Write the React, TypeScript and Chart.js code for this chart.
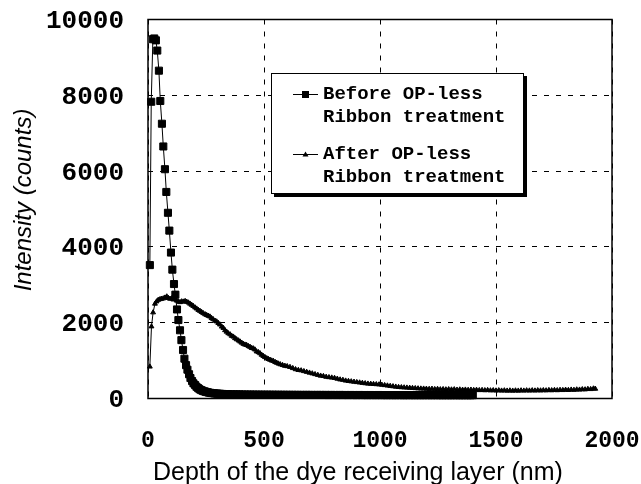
import { useEffect, useRef } from "react";
import { Chart, registerables } from "chart.js";

Chart.register(...registerables);

const W = 641;
const H = 484;

// ---- data ----
const beforeDepth = [
  8, 14, 21, 27, 34, 40, 47, 53, 60, 66, 73, 79, 86, 92, 99, 105, 112, 118, 125, 131,
  138, 144, 151, 157, 164, 170, 177, 183, 190, 196, 203, 209, 216, 222, 229, 235, 242, 248, 255, 261,
  268, 274, 281, 287, 294, 300, 307, 313, 320, 326, 333, 339,
  346, 358, 370, 382, 394, 406, 418, 430, 442, 454, 466, 478, 490, 502, 514, 526, 538, 550, 562, 574,
  586, 598, 610, 622, 634, 646, 658, 670, 682, 694, 706, 718, 730, 742, 754, 766, 778, 790, 802, 814,
  826, 838, 850, 862, 874, 886, 898, 910, 922, 934, 946, 958, 970, 982, 994, 1006, 1018, 1030, 1042, 1054,
  1066, 1078, 1090, 1102, 1114, 1126, 1138, 1150, 1162, 1174, 1186, 1198, 1210, 1222, 1234, 1246, 1258, 1270, 1282, 1294,
  1306, 1318, 1330, 1342, 1354, 1366, 1378, 1390, 1400,
];
const beforeIntensity = [
  3520, 7830, 9480, 9500, 9450, 9180, 8650, 7850, 7250, 6650, 6050, 5450, 4900, 4430, 3850, 3400, 3020, 2740, 2350, 2070,
  1800, 1540, 1280, 1050, 880, 760, 640, 540, 460, 400, 355, 310, 275, 245, 222, 205, 190, 178, 168, 158,
  150, 144, 139, 134, 130, 127, 124, 122, 120, 118, 116, 114,
  113, 112, 110, 109, 108, 106, 106, 104, 104, 103, 102, 102, 101, 100, 101, 99, 100, 98, 99, 97,
  98, 97, 96, 97, 95, 96, 95, 94, 96, 94, 95, 93, 95, 94, 93, 95, 92, 94, 93, 92,
  94, 92, 93, 91, 93, 92, 90, 93, 91, 92, 90, 92, 91, 90, 92, 90, 91, 89, 91, 90,
  89, 91, 90, 88, 90, 89, 90, 88, 90, 89, 88, 90, 89, 88, 90, 88, 89, 87, 89, 88,
  87, 89, 88, 87, 88, 87, 88, 87, 88,
];

const afterDepth = [
  8, 15, 22, 30, 37, 44, 52, 59, 66, 73, 81, 88, 95, 102, 109, 116, 124, 131, 138, 145,
  152, 160, 167, 174, 181, 188, 195, 203, 210, 217, 224, 231, 238, 246, 253, 260, 267, 274, 281, 289,
  296, 303, 310, 318, 325, 332, 339, 346, 354, 361, 368, 375, 382, 390, 397, 404, 411, 418, 425, 433,
  440, 447, 454, 461, 468, 476, 483, 490, 497, 504, 512, 519, 526, 533, 540, 548, 555, 562, 570, 580,
  590, 600, 612, 624, 636, 648, 660, 672, 684, 696, 708, 720, 732, 744, 756, 768, 780, 792, 804, 816,
  828, 840, 852, 864, 876, 888, 900, 912, 924, 936, 948, 960, 972, 984, 996, 1008, 1020, 1032, 1044, 1056,
  1068, 1080, 1092, 1104, 1116, 1128, 1140, 1152, 1164, 1176, 1188, 1200, 1212, 1224, 1236, 1248, 1260, 1272, 1284, 1296,
  1308, 1320, 1332, 1344, 1356, 1368, 1380, 1392, 1404, 1416, 1428, 1440, 1452, 1464, 1476, 1488, 1500, 1512, 1524, 1536,
  1548, 1560, 1572, 1584, 1596, 1608, 1620, 1632, 1644, 1656, 1668, 1680, 1692, 1704, 1716, 1728, 1740, 1752, 1764, 1776,
  1788, 1800, 1812, 1824, 1836, 1848, 1860, 1872, 1884, 1896, 1908, 1920, 1928,
];
const afterIntensity = [
  840, 1900, 2270, 2500, 2560, 2600, 2620, 2630, 2640, 2660, 2690, 2650, 2630, 2640, 2610, 2620, 2580, 2555, 2540, 2560,
  2555, 2570, 2550, 2530, 2500, 2470, 2440, 2400, 2370, 2335, 2310, 2280, 2250, 2220, 2200, 2180, 2160, 2120, 2090, 2050,
  2030, 1990, 1950, 1895, 1860, 1800, 1760, 1720, 1690, 1650, 1630, 1590, 1560, 1530, 1500, 1470, 1440, 1420, 1410, 1380,
  1360, 1330, 1320, 1290, 1240, 1220, 1190, 1150, 1120, 1090, 1060, 1040, 1020, 1000, 990, 960, 940, 920, 900, 880,
  860, 850, 830, 800, 770, 750, 740, 720, 700, 680, 660, 640, 620, 600, 590, 570, 560, 550, 540, 520,
  500, 490, 470, 460, 450, 440, 430, 420, 410, 400, 390, 385, 380, 375, 370, 360, 350, 340, 330, 320,
  310, 300, 295, 290, 285, 280, 275, 270, 265, 260, 258, 255, 250, 255, 245, 250, 240, 245, 238, 242,
  235, 240, 230, 236, 228, 232, 225, 230, 222, 226, 218, 222, 215, 220, 212, 216, 208, 214, 206, 212,
  205, 210, 204, 210, 205, 212, 206, 213, 207, 214, 208, 215, 210, 217, 212, 220, 214, 222, 216, 225,
  220, 228, 222, 232, 226, 236, 232, 242, 238, 250, 246, 262, 255,
];

const seriesLabels = [
  ["Before OP-less", "Ribbon treatment"],
  ["After OP-less", "Ribbon treatment"],
];

const xTitle = "Depth of the dye receiving layer (nm)";
const yTitle = "Intensity (counts)";

const xMin = 0;
const xMax = 2000;
const xStep = 500;
const yMin = 0;
const yMax = 10000;
const yStep = 2000;

const MONO = '"Liberation Mono", "Courier New", monospace';
const SANS = '"Liberation Sans", Arial, sans-serif';

function zeroPad(s: any) {
  s.paddingLeft = 0;
  s.paddingRight = 0;
  s.paddingTop = 0;
  s.paddingBottom = 0;
}

export default function App() {
  const ref = useRef<HTMLCanvasElement>(null);

  useEffect(() => {
    const boxPlugin = {
      id: "plotBox",
      beforeDatasetsDraw(chart: any) {
        const { ctx, chartArea: a } = chart;
        ctx.save();
        ctx.strokeStyle = "#000";
        ctx.lineWidth = 1.5;
        ctx.setLineDash([]);
        ctx.strokeRect(a.left, a.top, a.right - a.left, a.bottom - a.top);
        ctx.restore();
      },
    };

    const titlesPlugin = {
      id: "axisTitles",
      afterDraw(chart: any) {
        const { ctx } = chart;
        ctx.save();
        ctx.fillStyle = "#000";
        ctx.font = `25px ${SANS}`;
        ctx.textAlign = "left";
        ctx.textBaseline = "alphabetic";
        ctx.fillText(xTitle, 153, 480);

        ctx.translate(31, 200);
        ctx.rotate(-Math.PI / 2);
        ctx.font = `italic 24px ${SANS}`;
        ctx.textAlign = "center";
        ctx.fillText(yTitle, 0, 0);
        ctx.restore();
      },
    };

    const legendPlugin = {
      id: "boxLegend",
      afterDraw(chart: any) {
        const { ctx } = chart;
        const L = 271, T = 73, BW = 252, BH = 120;
        ctx.save();
        ctx.fillStyle = "#000";
        ctx.fillRect(L + 3, T + 3, BW + 1, BH + 1);
        ctx.fillStyle = "#fff";
        ctx.fillRect(L, T, BW, BH);
        ctx.strokeStyle = "#000";
        ctx.lineWidth = 1;
        ctx.strokeRect(L + 0.5, T + 0.5, BW, BH);

        const rows = [94, 154];
        const x0 = 293, x1 = 318, xm = (x0 + x1) / 2;
        ctx.font = `bold 19px ${MONO}`;
        ctx.textBaseline = "middle";
        ctx.textAlign = "left";
        seriesLabels.forEach((lines, i) => {
          const y = rows[i];
          ctx.beginPath();
          ctx.moveTo(x0, y + 0.5);
          ctx.lineTo(x1, y + 0.5);
          ctx.lineWidth = 1;
          ctx.strokeStyle = "#000";
          ctx.stroke();
          ctx.fillStyle = "#000";
          if (i === 0) {
            ctx.fillRect(xm - 3.5, y - 3, 7, 7);
          } else {
            ctx.beginPath();
            ctx.moveTo(xm, y - 2.5);
            ctx.lineTo(xm + 3, y + 2.5);
            ctx.lineTo(xm - 3, y + 2.5);
            ctx.closePath();
            ctx.fill();
          }
          lines.forEach((t, j) => {
            ctx.fillText(t, 323, y + j * 23.5);
          });
        });
        ctx.restore();
      },
    };

    const chart = new Chart(ref.current as HTMLCanvasElement, {
      type: "line",
      data: {
        datasets: [
          {
            label: seriesLabels[0].join(" "),
            data: beforeDepth.map((d, i) => ({ x: d, y: beforeIntensity[i] })),
            borderColor: "#000",
            backgroundColor: "#000",
            borderWidth: 1,
            pointStyle: "rect",
            pointRadius: 5,
            pointBorderWidth: 1,
            pointBackgroundColor: "#000",
            pointBorderColor: "#000",
            tension: 0,
            clip: 6,
          },
          {
            label: seriesLabels[1].join(" "),
            data: afterDepth.map((d, i) => ({ x: d, y: afterIntensity[i] })),
            borderColor: "#000",
            backgroundColor: "#000",
            borderWidth: 1,
            pointStyle: "triangle",
            pointRadius: 2.8,
            pointBorderWidth: 1,
            pointBackgroundColor: "#000",
            pointBorderColor: "#000",
            tension: 0,
            clip: 6,
          },
        ],
      },
      options: {
        animation: false,
        responsive: true,
        maintainAspectRatio: false,
        layout: { padding: { top: 19.5, right: 29, left: 0, bottom: 0 } },
        plugins: {
          legend: { display: false },
          tooltip: { enabled: false },
        },
        scales: {
          x: {
            type: "linear",
            min: xMin,
            max: xMax,
            afterFit: (s: any) => {
              s.height = 85.5;
              zeroPad(s);
            },
            ticks: {
              stepSize: xStep,
              color: "#000",
              padding: 29,
              maxRotation: 0,
              callback: (v: any) => String(v),
              font: { family: MONO, size: 23, weight: "bold" },
            },
            grid: { color: "#000", lineWidth: 1, drawTicks: false },
            border: { display: false, dash: [5, 7] },
          },
          y: {
            type: "linear",
            min: yMin,
            max: yMax,
            afterFit: (s: any) => {
              s.width = 148;
              zeroPad(s);
            },
            ticks: {
              stepSize: yStep,
              color: "#000",
              padding: 24,
              labelOffset: 2,
              callback: (v: any) => String(v),
              font: { family: MONO, size: 26, weight: "bold" },
            },
            grid: { color: "#000", lineWidth: 1, drawTicks: false },
            border: { display: false, dash: [5, 7] },
          },
        },
      } as any,
      plugins: [boxPlugin, titlesPlugin, legendPlugin],
    });
    return () => chart.destroy();
  }, []);

  return (
    <div style={{ position: "fixed", left: 0, top: 0, width: W, height: H, background: "#fff" }}>
      <canvas ref={ref} />
    </div>
  );
}
